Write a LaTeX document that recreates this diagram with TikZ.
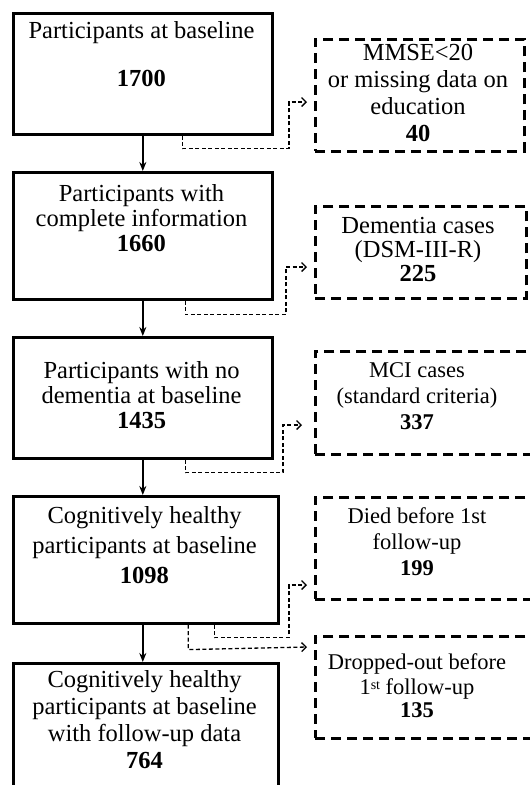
\documentclass[tikz,border=0pt]{standalone}
\usepackage{fontspec}
\setmainfont{Liberation Serif}
\usetikzlibrary{arrows.meta,calc}
\tikzset{
  solidbox/.style={draw, line width=2.6pt, rectangle, inner sep=0pt, anchor=north west},
  dashbox/.style={draw, line width=2.9pt, rectangle, inner sep=0pt, anchor=north west, dash pattern=on 10pt off 6pt},
  txt/.style={align=center, inner sep=0pt, font=\fontsize{24.5}{26}\selectfont},
  smalltxt/.style={align=center, inner sep=0pt, font=\fontsize{22.5}{26}\selectfont},
  mainarrow/.style={line width=1.8pt, -{Stealth[length=9pt,width=7pt]}},
  conn/.style={line width=1.3pt, dash pattern=on 4pt off 2.5pt, -{Straight Barb[length=4.5pt,width=9pt,line width=1.3pt]}}
}
\begin{document}
\begin{tikzpicture}[x=1pt,y=-1pt]
\useasboundingbox (0,0) rectangle (530,785);
\fill[white] (0,0) rectangle (530,785);

% main boxes
\node[solidbox, minimum width=259pt, minimum height=121pt] (b1) at (12,12) {};
\node[solidbox, minimum width=259pt, minimum height=127pt] (b2) at (12,171) {};
\node[solidbox, minimum width=259pt, minimum height=121pt] (b3) at (12,336) {};
\node[solidbox, minimum width=265pt, minimum height=127pt] (b4) at (12,495) {};
\node[solidbox, minimum width=265pt, minimum height=150pt] (b5) at (12,662) {};

\node[txt] (t1) at (141.5,54) {Participants at baseline\\[22pt]\textbf{1700}};
\node[txt] (t2) at (141.5,218) {Participants with\\[-1pt]complete information\\[-1pt]\textbf{1660}};
\node[txt] (t3) at (141.5,395) {Participants with no\\[-1pt]dementia at baseline\\[-1pt]\textbf{1435}};
\node[txt] (t4) at (144.5,545) {Cognitively healthy\\[4pt]participants at baseline\\[4pt]\textbf{1098}};
\node[txt] (t5) at (144.5,720) {Cognitively healthy\\[1pt]participants at baseline\\[1pt]with follow-up data\\[1pt]\textbf{764}};

% exclusion boxes
\node[dashbox, minimum width=209pt, minimum height=112pt] (d1) at (314,38) {};
\node[dashbox, minimum width=211pt, minimum height=92pt] (d2) at (314,205) {};
\node[dashbox, minimum width=230pt, minimum height=103pt] (d3) at (314,350) {};
\node[dashbox, minimum width=230pt, minimum height=102pt] (d4) at (314,496) {};
\node[dashbox, minimum width=230pt, minimum height=102pt] (d5) at (314,635) {};

\node[txt] (e1) at (418,93) {MMSE<20\\[1pt]or missing data on\\[1pt]education\\[1pt]\textbf{40}};
\node[txt] (e2) at (418,250) {Dementia cases\\[-2pt](DSM-III-R)\\[-2pt]\textbf{225}};
\node[smalltxt] (e3) at (417,396) {MCI cases\\(standard criteria)\\\textbf{337}};
\node[smalltxt] (e4) at (417,542) {Died before 1st\\follow-up\\\textbf{199}};
\node[smalltxt] (e5) at (417,686) {Dropped-out before\\[-1pt]1{\fontsize{14}{14}\selectfont\raisebox{5pt}{st}} follow-up\\[-3pt]\textbf{135}};

% main arrows
\draw[mainarrow] (b1.south) -- (b1.south |- b2.north);
\draw[mainarrow] (b2.south) -- (b2.south |- b3.north);
\draw[mainarrow] (b3.south) -- (b3.south |- b4.north);
\draw[mainarrow] (b3.south |- b4.south) -- (b3.south |- b5.north);

% exclusion connectors
\draw[conn] ([xshift=39.5pt]b1.south) -- ++(0,13) -| (289,102) -- ([xshift=-7pt]d1.west |- 0,102);
\draw[conn] ([xshift=42.5pt]b2.south) -- ++(0,14) -| (286,267) -- ([xshift=-7pt]d2.west |- 0,267);
\draw[conn] ([xshift=42.5pt]b3.south) -- ++(0,13) -| (283,425) -- ([xshift=-12pt]d3.west |- 0,425);
\draw[conn] ([xshift=68.5pt]b4.south) -- ++(0,13) -| (289,585) -- ([xshift=-7pt]d4.west |- 0,585);
\draw[conn] ([xshift=42.5pt]b4.south) -- ++(0,25) -- ([xshift=-7pt]d5.west |- 0,647);
\end{tikzpicture}
\end{document}
